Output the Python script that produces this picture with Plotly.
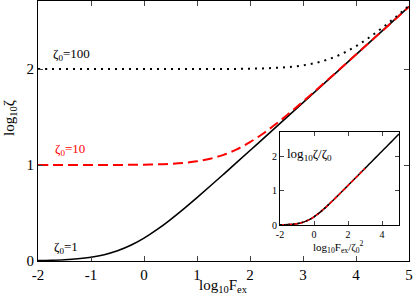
import numpy as np
import plotly.graph_objects as go

# Data
log_F = [-2, -1.75, -1.5, -1.25, -1, -0.75, -0.5, -0.25, 0, 0.25, 0.5, 0.75, 1, 1.25, 1.5,
         1.75, 2, 2.25, 2.5, 2.75, 3, 3.25, 3.5, 3.75, 4, 4.25, 4.5, 4.75, 5]
zeta_z1 = [0.0043, 0.0076, 0.0133, 0.0231, 0.0396, 0.0661, 0.1064, 0.1636, 0.2386, 0.3293,
           0.4324, 0.5440, 0.6611, 0.7815, 0.9039, 1.0274, 1.1516, 1.2761, 1.4009, 1.5257,
           1.6506, 1.7756, 1.9006, 2.0255, 2.1505, 2.2755, 2.4005, 2.5255, 2.6505]
zeta_z10 = [1.0000, 1.0001, 1.0001, 1.0002, 1.0004, 1.0008, 1.0014, 1.0024, 1.0043, 1.0076,
            1.0133, 1.0231, 1.0396, 1.0661, 1.1064, 1.1636, 1.2386, 1.3293, 1.4324, 1.5440,
            1.6611, 1.7815, 1.9039, 2.0274, 2.1516, 2.2761, 2.4009, 2.5257, 2.6506]
zeta_z100 = [2.0000, 2.0000, 2.0000, 2.0000, 2.0000, 2.0000, 2.0000, 2.0000, 2.0000, 2.0001,
             2.0001, 2.0002, 2.0004, 2.0008, 2.0014, 2.0024, 2.0043, 2.0076, 2.0133, 2.0231,
             2.0396, 2.0661, 2.1064, 2.1636, 2.2386, 2.3293, 2.4324, 2.5440, 2.6611]
zeta0_values = [1, 10, 100]
x_ticks = [-2, -1, 0, 1, 2, 3, 4, 5]
x_tick_labels = ["-2", "-1", "0", "1", "2", "3", "4", "5"]
y_ticks = [0, 1, 2]
y_tick_labels = ["0", "1", "2"]
inset_x_ticks = [-2, 0, 2, 4]
inset_x_tick_labels = ["-2", "0", "2", "4"]

SERIF = "Liberation Serif, Times New Roman, serif"
W, H = 415, 299
L, R, T, B = 38, 6, 1, 38
pw, ph = W - L - R, H - T - B

def px_to_paper_x(px):
    return (px - L) / pw

def px_to_paper_y(py):
    return (H - B - py) / ph

fig = go.Figure()

styles = [
    dict(color="black", width=1.6),
    dict(color="#ff0000", width=2, dash="10px,5px"),
    dict(color="black", width=2, dash="2px,5px"),
]
series = [zeta_z1, zeta_z10, zeta_z100]

for ys, st in zip(series, styles):
    fig.add_trace(go.Scatter(x=log_F, y=ys, mode="lines", line=dict(shape="spline", **st),
                             showlegend=False, hoverinfo="skip", xaxis="x", yaxis="y"))

# Inset: collapsed curves
for ys, st, z0 in zip(series, styles, zeta0_values):
    lz = np.log10(z0)
    xi = [x - 2 * lz for x in log_F]
    yi = [y - lz for y in ys]
    st2 = dict(st)
    st2["width"] = 1.5
    if "dash" in st2:
        st2["dash"] = "4px,2px" if z0 == 10 else "1.5px,3px"
    fig.add_trace(go.Scatter(x=xi, y=yi, mode="lines", line=dict(shape="spline", **st2),
                             showlegend=False, hoverinfo="skip", xaxis="x2", yaxis="y2"))

axis_common = dict(showline=True, linecolor="black", linewidth=1, mirror="ticks",
                   ticks="inside", showgrid=False, zeroline=False)

ix0, ix1 = px_to_paper_x(280), px_to_paper_x(399)
iy0, iy1 = px_to_paper_y(225), px_to_paper_y(132)

fig.update_layout(
    width=W, height=H,
    margin=dict(l=L, r=R, t=T, b=B, autoexpand=False),
    paper_bgcolor="white", plot_bgcolor="white",
    font=dict(family=SERIF, color="black"),
    xaxis=dict(range=[-2, 5], tickvals=x_ticks, ticktext=x_tick_labels, ticklen=5, tickwidth=1,
               tickfont=dict(size=15, family=SERIF), domain=[0, 1], anchor="y",
               automargin=False, **axis_common),
    yaxis=dict(range=[0, 2.71], tickvals=y_ticks, ticktext=y_tick_labels, ticklen=5, tickwidth=1,
               tickfont=dict(size=15, family=SERIF), domain=[0, 1], anchor="x",
               automargin=False, **axis_common),
    xaxis2=dict(range=[-2, 5], tickvals=inset_x_ticks, ticktext=inset_x_tick_labels, ticklen=4,
                tickfont=dict(size=10, family=SERIF), domain=[ix0, ix1], anchor="y2",
                automargin=False, **axis_common),
    yaxis2=dict(range=[0, 2.71], tickvals=y_ticks, ticktext=y_tick_labels, ticklen=4,
                tickfont=dict(size=10, family=SERIF), domain=[iy0, iy1], anchor="x2",
                automargin=False, **axis_common),
)

ann = []
# axis titles
ann.append(dict(text="log<sub>10</sub>F<sub>ex</sub>", x=px_to_paper_x(223), y=px_to_paper_y(286),
                xref="paper", yref="paper", showarrow=False, font=dict(size=15, family=SERIF),
                xanchor="center", yanchor="middle"))
ann.append(dict(text="log<sub>10</sub>ζ", x=px_to_paper_x(10), y=px_to_paper_y(118),
                xref="paper", yref="paper", showarrow=False, font=dict(size=15, family=SERIF),
                textangle=-90, xanchor="center", yanchor="middle"))
# curve labels
ann.append(dict(text="ζ<sub>0</sub>=100", x=px_to_paper_x(51), y=px_to_paper_y(54),
                xref="paper", yref="paper", showarrow=False, font=dict(size=13, family=SERIF),
                xanchor="left", yanchor="middle"))
ann.append(dict(text="ζ<sub>0</sub>=10", x=px_to_paper_x(53), y=px_to_paper_y(149),
                xref="paper", yref="paper", showarrow=False,
                font=dict(size=13, family=SERIF, color="#ff0000"),
                xanchor="left", yanchor="middle"))
ann.append(dict(text="ζ<sub>0</sub>=1", x=px_to_paper_x(52), y=px_to_paper_y(247),
                xref="paper", yref="paper", showarrow=False, font=dict(size=13, family=SERIF),
                xanchor="left", yanchor="middle"))
# inset titles
ann.append(dict(text="log<sub>10</sub>ζ/ζ<sub>0</sub>", x=px_to_paper_x(285), y=px_to_paper_y(154),
                xref="paper", yref="paper", showarrow=False, font=dict(size=13, family=SERIF),
                xanchor="left", yanchor="middle"))
ann.append(dict(text="log<sub>10</sub>F<sub>ex</sub>/ζ<sub>0</sub><sup>2</sup>",
                x=px_to_paper_x(338), y=px_to_paper_y(247),
                xref="paper", yref="paper", showarrow=False, font=dict(size=11, family=SERIF),
                xanchor="center", yanchor="middle"))
fig.update_layout(annotations=ann)

fig.write_html("out.html", config={"displayModeBar": False},
               post_script="document.body.style.margin='0px';document.body.style.padding='0px';")
